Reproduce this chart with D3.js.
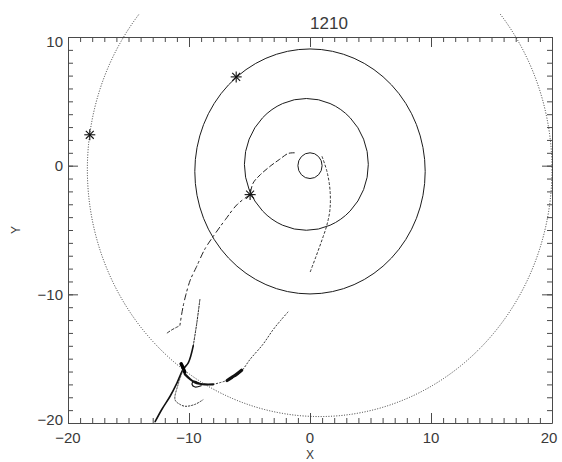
<!DOCTYPE html>
<html><head><meta charset="utf-8">
<script src="https://cdn.jsdelivr.net/npm/d3@7"></script>
<style>
html,body{margin:0;padding:0;background:#fff;}
svg{display:block;}
text{font-family:"Liberation Sans",Arial,Helvetica,sans-serif;fill:#3a3a3a;}
</style></head>
<body>
<svg id="chart" width="562" height="462"></svg>
<script>
// ---------- data ----------
const title = "1210";
const xLabel = "X", yLabel = "Y";
const xTickValues = [-20, -10, 0, 10, 20];
const xTickLabels = ["\u221220", "\u221210", "0", "10", "20"];
const yTickValues = [-20, -10, 0, 10];
const yTickLabels = ["\u221220", "\u221210", "0", "10"];

// rings: centres and radii (data units)
const ringCenters = [[0, 0], [-0.3, 0.1], [0, -0.45], [0.8, -0.3]];
const ringRadii = [1.0, 5.12, 9.52, 19.2];
const ringStyles = ["solid", "solid", "solid", "dotted"];

// star markers
const starPoints = [[-18.2, 2.4], [-6.1, 6.9], [-4.95, -2.25]];

// trajectory traces (data units)
const arcUpper = [[-1.3, 1.0], [-1.8, 0.95], [-2.5, 0.5], [-3.3, -0.05], [-4.1, -0.7], [-4.7, -1.35], [-4.95, -2.25]];
const arcLowerA = [[-4.95, -2.25], [-6.0, -3.0], [-7.0, -4.2], [-8.0, -5.5], [-8.7, -6.5], [-9.4, -7.9], [-9.9, -8.9], [-10.25, -10.0], [-10.5, -11.0], [-10.65, -11.8], [-10.75, -12.4]];
const arcRight = [[1.0, 0.7], [1.4, -0.45], [1.65, -1.85], [1.65, -3.4], [1.4, -4.6], [1.0, -5.75], [0.5, -7.05], [0.0, -8.3]];
const lineBUpper = [[-9.1, -10.4], [-9.35, -12.2], [-9.65, -14.0]];
const lineBLower = [[-9.65, -14.0], [-10.05, -15.3], [-10.5, -15.85], [-11.0, -16.9], [-11.55, -17.9], [-12.25, -18.95], [-12.8, -19.9]];
const arcD = [[-8.0, -17.0], [-6.9, -16.7], [-6.0, -16.25], [-5.6, -15.9], [-4.95, -15.05], [-3.9, -13.9], [-3.05, -12.75], [-2.4, -12.0], [-1.8, -11.35]];
const blobLoop = [[-10.35, -16.2], [-9.9, -16.6], [-9.5, -16.85], [-9.1, -16.95], [-8.7, -17.0], [-8.0, -17.0]];
const smallLoop = [[-9.2, -16.9], [-9.6, -16.75], [-9.75, -17.0], [-9.5, -17.2], [-9.0, -17.1]];
const blobStreak = [[-6.85, -16.7], [-6.45, -16.45], [-6.05, -16.2], [-5.65, -15.9]];
const blobKnot = [[-10.65, -15.4], [-10.5, -15.7], [-10.35, -16.05]];
const arcBottom = [[-10.5, -15.9], [-10.9, -17.0], [-11.15, -18.2], [-10.75, -18.55], [-10.3, -18.7], [-9.5, -18.55], [-8.85, -18.2]];
const dashPiece = [[-11.8, -13.0], [-11.4, -12.75], [-10.9, -12.5]];

// ---------- drawing ----------
const svg = d3.select("#chart");
const x = d3.scaleLinear().domain([-20, 20]).range([68, 552]);
const y = d3.scaleLinear().domain([-20, 10]).range([423, 37]);
const axisColor = "#4a4a4a";

svg.append("defs").append("clipPath").attr("id", "win")
  .append("rect").attr("x", 0).attr("y", 14).attr("width", 562).attr("height", 448);

// axes: minor then major ticks, on all four sides, pointing inward
function styleAxis(g) {
  g.selectAll("path,line").attr("stroke", axisColor).attr("stroke-width", 1);
  g.selectAll("text").remove();
}
const minorX = x.ticks(40), minorY = y.ticks(30);
[[d3.axisBottom(x), 423, "x"], [d3.axisTop(x), 37, "x"], [d3.axisLeft(y), 68, "y"], [d3.axisRight(y), 552, "y"]]
  .forEach(([ax, pos, dim]) => {
    const tr = dim === "x" ? `translate(0,${pos})` : `translate(${pos},0)`;
    svg.append("g").attr("transform", tr)
      .call(ax.tickValues(dim === "x" ? minorX : minorY).tickSize(-5).tickSizeOuter(0).tickFormat(""))
      .call(styleAxis);
    svg.append("g").attr("transform", tr)
      .call(ax.tickValues(dim === "x" ? xTickValues : yTickValues).tickSize(-10).tickSizeOuter(0).tickFormat(""))
      .call(g => { styleAxis(g); g.select("path").remove(); });
  });

// tick labels
svg.append("g").selectAll("text").data(xTickValues).join("text")
  .attr("x", (d, i) => Math.min(x(d), 549))
  .attr("y", 443).attr("text-anchor", "middle")
  .attr("font-size", 15)
  .text((d, i) => xTickLabels[i]);
svg.append("g").selectAll("text").data(yTickValues).join("text")
  .attr("x", 63)
  .attr("y", d => Math.max(42, Math.min(420, y(d))))
  .attr("dy", "0.36em").attr("text-anchor", "end")
  .attr("font-size", 15)
  .text((d, i) => yTickLabels[i]);

// title & axis titles
svg.append("text").attr("x", 329).attr("y", 29).attr("text-anchor", "middle")
  .attr("font-size", 17).text(title);
svg.append("text").attr("x", 310).attr("y", 458.5).attr("text-anchor", "middle")
  .attr("font-size", 12).text(xLabel);
svg.append("text").attr("transform", "translate(20,230) rotate(-90)")
  .attr("text-anchor", "middle").attr("font-size", 12).text(yLabel);

// rings
const rx = r => x(r) - x(0), ry = r => y(0) - y(r);
svg.append("g").attr("clip-path", "url(#win)").selectAll("ellipse").data(ringRadii).join("ellipse")
  .attr("cx", (r, i) => x(ringCenters[i][0]))
  .attr("cy", (r, i) => y(ringCenters[i][1]))
  .attr("rx", r => rx(r)).attr("ry", r => ry(r))
  .attr("fill", "none")
  .attr("stroke", (r, i) => ringStyles[i] === "dotted" ? "#333" : "#1c1c1c")
  .attr("stroke-width", 1)
  .attr("stroke-dasharray", (r, i) => ringStyles[i] === "dotted" ? "1,1.6" : null);

// trajectories
const line = d3.line().x(d => x(d[0])).y(d => y(d[1])).curve(d3.curveCatmullRom.alpha(0.5));
const traces = [
  [arcUpper, 1, "5,3", "#222"],
  [arcLowerA, 1, "6,4,2,3", "#222"],
  [arcRight, 1, "2,2.5", "#333"],
  [lineBUpper, 1, "2,1.5", "#222"],
  [lineBLower, 1.6, null, "#111"],
  [arcD, 1, "1.2,2.2", "#333"],
  [blobLoop, 2.2, null, "#111"],
  [smallLoop, 1.2, null, "#111"],
  [blobStreak, 3.2, null, "#111"],
  [blobKnot, 3.5, null, "#000"],
  [arcBottom, 1, "1.3,1.8", "#333"],
  [dashPiece, 1, "3,2", "#333"]
];
svg.append("g").selectAll("path").data(traces).join("path")
  .attr("d", d => line(d[0]))
  .attr("fill", "none")
  .attr("stroke", d => d[3])
  .attr("stroke-width", d => d[1])
  .attr("stroke-dasharray", d => d[2])
  .attr("stroke-linecap", "round");

// star markers (8-armed asterisk)
const starArms = [[1, 0], [0, 1], [0.72, 0.72], [0.72, -0.72]];
const sg = svg.append("g").selectAll("g").data(starPoints).join("g")
  .attr("transform", d => `translate(${x(d[0])},${y(d[1])})`);
sg.selectAll("line").data(starArms).join("line")
  .attr("x1", a => -a[0] * 5.5).attr("y1", a => -a[1] * 5.5)
  .attr("x2", a => a[0] * 5.5).attr("y2", a => a[1] * 5.5)
  .attr("stroke", "#111").attr("stroke-width", 1.1);
</script>
</body></html>
